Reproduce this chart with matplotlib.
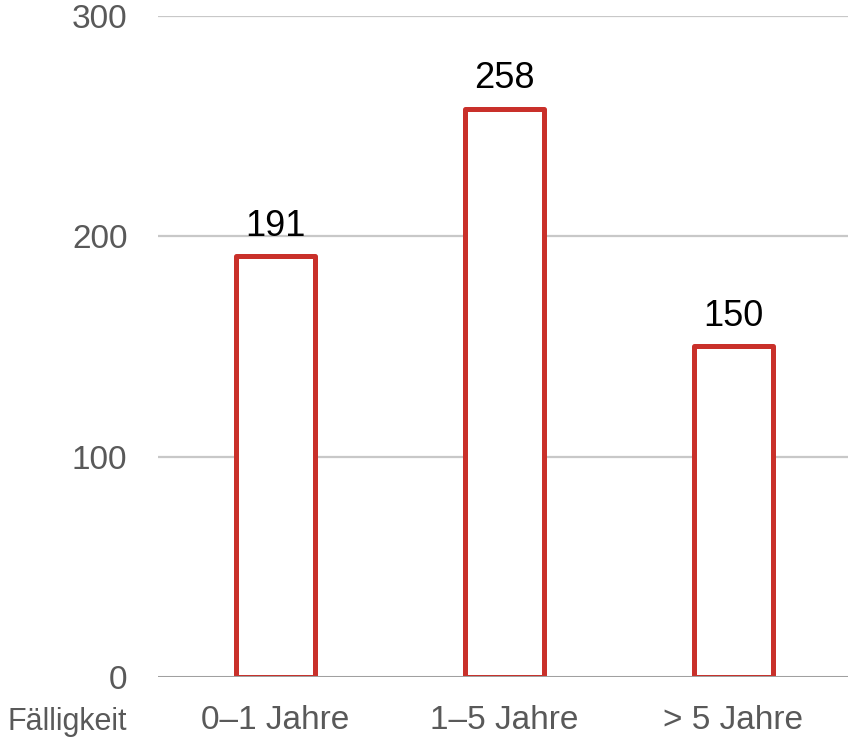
import matplotlib
matplotlib.use("Agg")
import matplotlib.pyplot as plt

categories = ["0–1 Jahre", "1–5 Jahre", "> 5 Jahre"]
values = [191, 258, 150]
yticks = [0, 100, 200, 300]
axis_label = "Fälligkeit"

plt.rcParams['font.family'] = ['Liberation Sans', 'DejaVu Sans']

fig = plt.figure(figsize=(8.48, 7.38), dpi=100)
ax = fig.add_axes([158/848, 1 - 677/738, (848-158)/848, (677-16)/738])

x = list(range(len(categories)))
bars = ax.bar(x, values, width=0.345, facecolor="white", edgecolor="#c9302a",
              linewidth=3.6, zorder=3)
for b in bars:
    b.set_joinstyle("round")

for xi, v in zip(x, values):
    ax.annotate(str(v), (xi, v), xytext=(0, 9), textcoords="offset points",
                ha="center", va="bottom", fontsize=26, color="black")

ax.set_xlim(-0.511, 2.502)
ax.set_ylim(0, 300)
ax.set_yticks(yticks)
ax.set_yticklabels([str(t) for t in yticks])
for lbl in ax.get_yticklabels():
    lbl.set_y(lbl.get_position()[1])
for t in yticks:
    if t == 0:
        ax.axhline(t, color="#a0a0a0", linewidth=2.2, zorder=4)
    else:
        ax.axhline(t, color="#c8c8c8", linewidth=1.6, zorder=1)

for s in ax.spines.values():
    s.set_visible(False)
ax.tick_params(axis="both", length=0, labelsize=24, labelcolor="#595959")
ax.tick_params(axis="y", pad=22)
ax.tick_params(axis="x", pad=20)
ax.set_xticks(x)
ax.set_xticklabels(categories)

fig.text(8/848, 1 - 722/738, axis_label, ha="left", va="center",
         fontsize=22, color="#595959")

fig.savefig("out.png", dpi=100)
